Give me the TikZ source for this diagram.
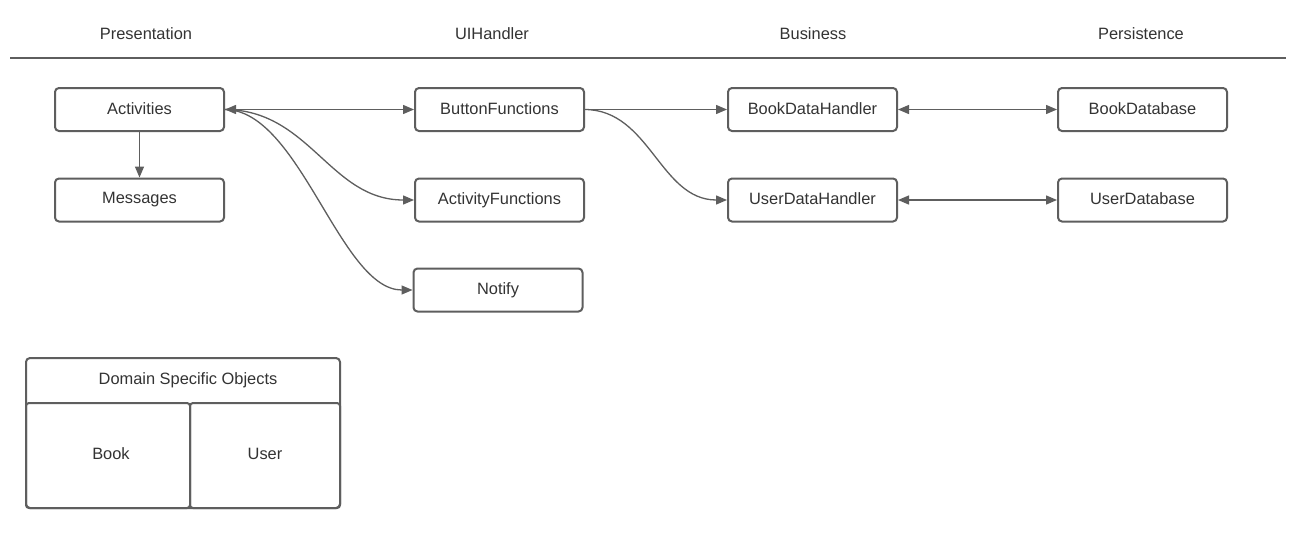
\documentclass[tikz,border=0pt]{standalone}
\usepackage{fontspec}
\setmainfont{Liberation Sans}
\usetikzlibrary{arrows.meta}
\definecolor{edge}{HTML}{5E5E5E}
\definecolor{txt}{HTML}{333333}
\begin{document}
\begin{tikzpicture}[x=1pt,y=-1pt,
  box/.style={draw=edge,line width=2pt,rounded corners=4pt,minimum width=169pt,minimum height=43pt,inner sep=0pt,text=txt,font=\fontsize{16.4}{19}\selectfont},
  head/.style={text=txt,font=\fontsize{16.4}{19}\selectfont,inner sep=0pt},
  conn/.style={draw=edge,line width=1.3pt,-{Triangle[length=11pt,width=9pt]}},
  biconn/.style={draw=edge,line width=1.3pt,{Triangle[length=11pt,width=9pt]}-{Triangle[length=11pt,width=9pt]}},
  lbl/.style={text=txt,font=\fontsize{16.4}{19}\selectfont,inner sep=0pt}
]
\useasboundingbox[fill=white] (0,0) rectangle (1304,533);
% headers
\node[head] (hP) at (146,34) {Presentation};
\node[head] (hU) at (492,34) {UIHandler};
\node[head] (hB) at (813,34) {Business};
\node[head] (hPe) at (1141,34) {Persistence};
\coordinate (l1) at (10,58);
\coordinate (l2) at (1286,58);
\draw[edge,line width=1.2pt] (l1) -- (l2);
% boxes
\node[box] (act) at (139.5,109.5) {\raisebox{2pt}{Activities}};
\node[box] (msg) at (139.5,200) {\raisebox{2pt}{Messages}};
\node[box] (btn) at (499.5,109.5) {\raisebox{2pt}{ButtonFunctions}};
\node[box] (actf) at (499.5,200) {\raisebox{2pt}{ActivityFunctions}};
\node[box] (ntf) at (498,290) {\raisebox{2pt}{Notify}};
\node[box] (bdh) at (812.5,109.5) {\raisebox{2pt}{BookDataHandler}};
\node[box] (udh) at (812.5,200) {\raisebox{2pt}{UserDataHandler}};
\node[box] (bdb) at (1142.5,109.5) {\raisebox{2pt}{BookDatabase}};
\node[box] (udb) at (1142.5,200) {\raisebox{2pt}{UserDatabase}};
% connectors
\draw[conn] (act.south) -- (msg.north);
\draw[biconn] (act.east) -- (btn.west);
\draw[conn] (act.east) .. controls (310,110) and (330,200) .. (actf.west);
\draw[conn] (act.east) .. controls (300,110) and (340,290) .. (ntf.west);
\draw[conn] (btn.east) -- (bdh.west);
\draw[conn] (btn.east) .. controls (650,110) and (660,200) .. (udh.west);
\draw[biconn] (bdh.east) -- (bdb.west);
\draw[biconn] (udh.east) -- (udb.west);
% domain specific objects
\draw[edge,line width=2pt,rounded corners=4pt] (26,358) rectangle (340,508);
\draw[edge,line width=2pt,rounded corners=3pt] (26,403) rectangle (190,508);
\draw[edge,line width=2pt,rounded corners=3pt] (190,403) rectangle (340,508);
\node[lbl] (dso) at (188,380) {Domain Specific Objects};
\node[lbl] (book) at (111,454) {Book};
\node[lbl] (user) at (265,454) {User};
\end{tikzpicture}
\end{document}
